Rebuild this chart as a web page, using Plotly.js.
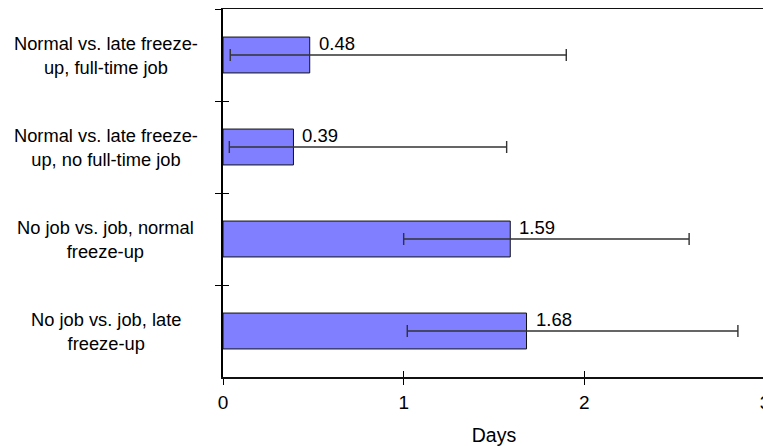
<!DOCTYPE html>
<html>
<head>
<meta charset="utf-8">
<script src="https://cdn.plot.ly/plotly-3.0.1.min.js"></script>
<style>
html, body { margin: 0; padding: 0; overflow: hidden; background: #fff; }
#chart { width: 780px; height: 446px; }
</style>
</head>
<body>
<div id="chart"></div>
<script>
// Data
const categories = [
  "Normal vs. late freeze-<br>up, full-time job",
  "Normal vs. late freeze-<br>up, no full-time job",
  "No job vs. job, normal<br>freeze-up",
  "No job vs. job, late<br>freeze-up"
];
const values = [0.48, 0.39, 1.59, 1.68];
const lowerBounds = [0.04, 0.035, 1.0, 1.02];
const upperBounds = [1.90, 1.57, 2.58, 2.85];
const valueLabels = ["0.48", "0.39", "1.59", "1.68"];
const xTicks = [0, 1, 2, 3];

const errPlus = values.map((v, i) => upperBounds[i] - v);
const errMinus = values.map((v, i) => v - lowerBounds[i]);

const FONT = "Liberation Sans, Arial, Helvetica, sans-serif";

const mainBars = {
  type: "bar",
  orientation: "h",
  x: values,
  y: categories,
  marker: { color: "#7f7fff", line: { color: "#111", width: 1 } },
  error_x: {
    type: "data",
    symmetric: false,
    array: errPlus,
    arrayminus: errMinus,
    color: "#333",
    thickness: 1.4,
    width: 6
  },
  hoverinfo: "skip",
  showlegend: false
};

// invisible duplicate on overlay axes, used only for the inner half of the crossing tick marks
const tickBars = {
  type: "bar",
  orientation: "h",
  x: values,
  y: categories,
  xaxis: "x2",
  yaxis: "y2",
  marker: { color: "rgba(0,0,0,0)" },
  hoverinfo: "skip",
  showlegend: false
};

const annotations = [];
categories.forEach((c, i) => {
  annotations.push({
    xref: "paper", yref: "y",
    x: -0.216, y: c,
    text: c,
    showarrow: false,
    xanchor: "center", yanchor: "middle",
    align: "center",
    font: { family: FONT, size: 18.3, color: "#000" }
  });
  annotations.push({
    xref: "x", yref: "y",
    x: values[i], y: c,
    text: valueLabels[i],
    showarrow: false,
    xanchor: "left", yanchor: "middle",
    xshift: 7, yshift: 12,
    font: { family: FONT, size: 18.5, color: "#000" }
  });
});

const layout = {
  width: 780,
  height: 446,
  margin: { l: 223, r: 15, t: 9, b: 69 },
  paper_bgcolor: "#fff",
  plot_bgcolor: "#fff",
  bargap: 0.61,
  font: { family: FONT, size: 18, color: "#000" },
  xaxis: {
    range: [0, 3],
    tickvals: xTicks,
    ticktext: xTicks.map(String),
    ticks: "outside",
    ticklen: 6,
    tickwidth: 1,
    tickcolor: "#000",
    ticklabelstandoff: 2,
    ticklabeloverflow: "allow",
    showgrid: false,
    zeroline: false,
    showline: true,
    linecolor: "#111",
    linewidth: 1.5,
    mirror: true,
    tickfont: { family: FONT, size: 19, color: "#000" },
    title: { text: "Days", font: { family: FONT, size: 19.5, color: "#000" }, standoff: 21 }
  },
  yaxis: {
    type: "category",
    categoryorder: "array",
    categoryarray: categories,
    autorange: "reversed",
    tickson: "boundaries",
    ticks: "outside",
    ticklen: 6,
    tickwidth: 1,
    tickcolor: "#000",
    showticklabels: false,
    showgrid: false,
    zeroline: false,
    showline: true,
    linecolor: "#000",
    linewidth: 1.8
  },
  xaxis2: {
    overlaying: "x",
    anchor: "y2",
    side: "bottom",
    range: [0, 3],
    tickvals: xTicks,
    ticks: "inside",
    ticklen: 6,
    tickwidth: 1,
    tickcolor: "#000",
    showticklabels: false,
    showgrid: false,
    zeroline: false,
    showline: false
  },
  yaxis2: {
    overlaying: "y",
    anchor: "x2",
    side: "left",
    type: "category",
    categoryorder: "array",
    categoryarray: categories,
    autorange: "reversed",
    tickson: "boundaries",
    ticks: "inside",
    ticklen: 6,
    tickwidth: 1,
    tickcolor: "#000",
    showticklabels: false,
    showgrid: false,
    zeroline: false,
    showline: false
  },
  annotations: annotations
};

Plotly.newPlot("chart", [mainBars, tickBars], layout, { staticPlot: true, displayModeBar: false });
</script>
</body>
</html>
